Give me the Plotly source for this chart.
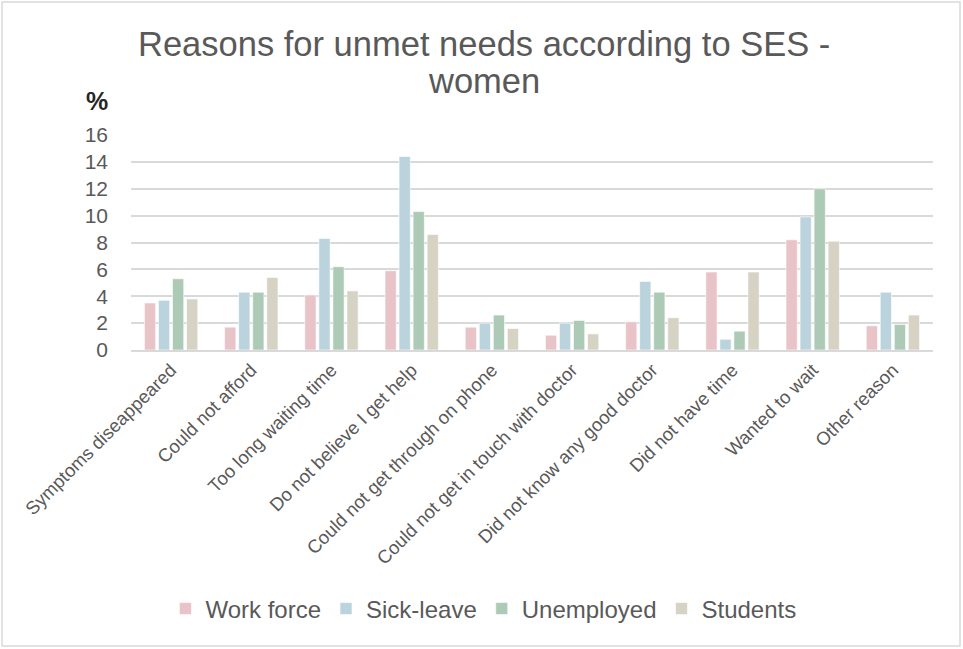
import plotly.graph_objects as go

categories = ["Symptoms diseappeared", "Could not afford", "Too long waiting time",
              "Do not believe I get help", "Could not get through on phone",
              "Could not get in touch with doctor", "Did not know any good doctor",
              "Did not have time", "Wanted to wait", "Other reason"]
work_force = [3.5, 1.7, 4.1, 5.9, 1.7, 1.1, 2.1, 5.8, 8.2, 1.8]
sick_leave = [3.7, 4.3, 8.3, 14.4, 2.0, 2.0, 5.1, 0.8, 9.9, 4.3]
unemployed = [5.3, 4.3, 6.2, 10.3, 2.6, 2.2, 4.3, 1.4, 12.0, 1.9]
students = [3.8, 5.4, 4.4, 8.6, 1.6, 1.2, 2.4, 5.8, 8.1, 2.6]
y_ticks = [0, 2, 4, 6, 8, 10, 12, 14, 16]
title_lines = ["Reasons for unmet needs according to SES -", "women"]

series = [("Work force", work_force, "#E8C3C7"),
          ("Sick-leave", sick_leave, "#BAD3DD"),
          ("Unemployed", unemployed, "#ADCAB7"),
          ("Students", students, "#D6D3C4")]

FONT = "Liberation Sans, Arial, sans-serif"
GREY = "#595959"

fig = go.Figure()
for name, vals, col in series:
    fig.add_trace(go.Bar(x=categories, y=vals, name=name,
                         marker=dict(color=col, line=dict(color="rgba(255,255,255,0.6)", width=1))))

W, H = 963, 649
L, R, T, B = 131, 30, 135, 299
pw, ph = W - L - R, H - T - B


def px_x(x):
    return (x - L) / pw


def px_y(y):
    return (H - B - y) / ph


annotations = [dict(text="<b>%</b>", x=px_x(97), y=px_y(101), xref="paper", yref="paper",
                    showarrow=False, font=dict(size=25, color="#262626", family=FONT),
                    xanchor="center", yanchor="middle")]
for line, ypx in zip(title_lines, [44, 81]):
    annotations.append(dict(text=line, x=px_x(W / 2 + 2), xref="paper", xanchor="center",
                            y=px_y(ypx), yref="paper", yanchor="middle",
                            showarrow=False, font=dict(size=34.5, color=GREY, family=FONT)))

fig.update_layout(
    width=W, height=H,
    margin=dict(l=L, r=R, t=T, b=B, autoexpand=False),
    paper_bgcolor="white", plot_bgcolor="white",
    barmode="group", bargap=0.3, bargroupgap=0.2,
    font=dict(family=FONT, color=GREY),
    showlegend=True,
    legend=dict(orientation="h", x=0.502, xref="container", xanchor="center",
                y=1 - 609 / H, yref="container", yanchor="middle",
                font=dict(size=24, color=GREY, family=FONT),
                itemwidth=30, traceorder="normal"),
    xaxis=dict(tickangle=-45, tickfont=dict(size=18.5, color=GREY),
               showgrid=False, showline=True, linecolor="#D9D9D9", linewidth=2,
               ticks=""),
    yaxis=dict(range=[0, 16], tickvals=y_ticks, tickfont=dict(size=21, color=GREY),
               showgrid=True, gridcolor="#D9D9D9", gridwidth=1.5,
               zeroline=False, showline=False, ticks="", ticklabelstandoff=22),
    annotations=annotations,
    shapes=[dict(type="rect", xref="paper", yref="paper",
                 x0=px_x(2), x1=px_x(960), y0=px_y(646), y1=px_y(2),
                 line=dict(color="#D9D9D9", width=1.5), fillcolor="rgba(0,0,0,0)", layer="below")],
)

fig.write_html("out.html", config={"displayModeBar": False},
               post_script="document.body.style.margin='0';")
